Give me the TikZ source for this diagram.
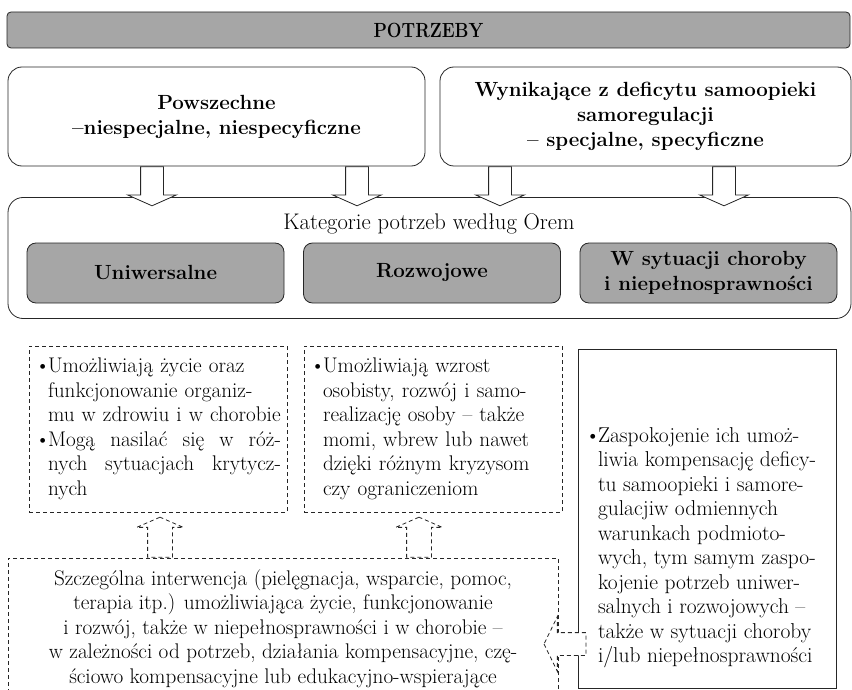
\documentclass[tikz,border=0pt]{standalone}
\usepackage{graphicx}
\usepackage{tikz}
\usetikzlibrary{positioning,%
	shapes.arrows}
\definecolor{boxgray}{HTML}{A6A6A6}
\newcommand{\bitem}{\makebox[13pt][l]{\textbullet}}
\newcommand{\icont}{\hspace*{13pt}}
\newcommand{\jline}[1]{\makebox[233pt][s]{\spaceskip=0pt\xspaceskip=0pt #1}}

\begin{document}
\begin{tikzpicture}[x=1pt, y=-1pt, line width=0.8pt, box/.style = {draw=black!85, rounded corners=14pt, inner sep=0pt, align=center, font=\fontsize{20.5}{25}\selectfont\bfseries}, catbox/.style = {draw=black!85, rounded corners=9pt, fill=boxgray, minimum width=257pt, minimum height=60pt, inner sep=0pt, align=center, font=\fontsize{20.5}{25}\selectfont\bfseries}, note/.style = {draw=black!85, dash pattern=on 4pt off 3pt, inner xsep=6pt, inner ysep=0pt, minimum width=258pt, minimum height=166pt, text width=246pt, align=left, font=\fontsize{21.2}{24.5}\selectfont}, darr/.style = {single arrow, draw=black!85, fill=white, anchor=tail, single arrow head indent=0pt}, downarr/.style = {darr, inner sep=11pt, shape border rotate=270, minimum height=39pt, minimum width=48pt, single arrow head extend=13pt, single arrow tip angle=132}, uparr/.style = {darr, inner sep=12pt, dash pattern=on 4pt off 3pt, shape border rotate=90, minimum height=40pt, minimum width=46pt, single arrow head extend=11pt, single arrow tip angle=133}, leftarr/.style = {darr, inner sep=11pt, dash pattern=on 4pt off 3pt, shape border rotate=180, minimum height=42pt, minimum width=54pt, single arrow head extend=16pt, single arrow tip angle=128}]
	\useasboundingbox (0,0) rectangle (852,690);
	\clip (0,0) rectangle (852,690);
	\node[draw=black!85, rounded corners=4pt, fill=boxgray, minimum width=843pt, minimum height=36pt, font=\fontsize{20.5}{24}\selectfont\bfseries] (potr) at (428.5,30) {\scalebox{0.85}[1]{POTRZEBY}};
	\node[box, minimum width=417pt, minimum height=99pt] (pow) at (216.5,116.5) {Powszechne\\–niespecjalne, niespecyficzne};
	\node[box, minimum width=411pt, minimum height=99pt] (def) at (645.5,116.5) {Wynikające z deficytu samoopieki\\samoregulacji\\– specjalne, specyficzne};
	\node[box, minimum width=843pt, minimum height=121pt, rounded corners=15pt] (orem) at (429.5,258) {};
	\node[font=\fontsize{22.6}{25}\selectfont, inner sep=0pt] (oremt) at (429,224) {Kategorie potrzeb według Orem};
	\node[catbox] (uni) at (155.5,273) {Uniwersalne};
	\node[catbox] (roz) at (432,273) {Rozwojowe};
	\node[catbox] (cho) at (708.5,273) {W sytuacji choroby\\i niepełnosprawności};
	\node[note] (n1) at (158,429) {\bitem Umożliwiają życie oraz\\\icont funkcjonowanie organiz-\\\icont\mbox{mu w zdrowiu i w chorobie}\\\bitem\jline{Mogą nasilać się w róż-}\\\icont\jline{nych sytuacjach krytycz-}\\\icont nych};
	\node[note] (n2) at (433,429) {\bitem Umożliwiają wzrost\\\icont osobisty, rozwój i samo-\\\icont realizację osoby – także\\\icont momi, wbrew lub nawet\\\icont dzięki różnym kryzysom\\\icont czy ograniczeniom};
	\node[draw=black!85, minimum width=258pt, minimum height=339pt] (kom) at (707,518.5) {};
	\node[anchor=west, inner sep=0pt, align=left, font=\fontsize{21.5}{24.5}\selectfont] (komt) at ([shift={(7,29)}]kom.west) {\bitem Zaspokojenie ich umoż-\\\icont liwia kompensację deficy-\\\icont tu samoopieki i samore-\\\icont gulacjiw odmiennych\\\icont warunkach podmioto-\\\icont wych, tym samym zaspo-\\\icont kojenie potrzeb uniwer-\\\icont salnych i rozwojowych –\\\icont także w sytuacji choroby\\\icont i/lub niepełnosprawności};
	\node[draw=black!85, dash pattern=on 4pt off 3pt, minimum width=550pt, minimum height=141pt, inner sep=0pt, align=center, font=\fontsize{21.2}{24.5}\selectfont] (intv) at (283,628.5) {Szczególna interwencja (pielęgnacja, wsparcie, pomoc,\\terapia itp.) umożliwiająca życie, funkcjonowanie\\i rozwój, także w niepełnosprawności i w chorobie –\\w zależności od potrzeb, działania kompensacyjne, czę-\\ściowo kompensacyjne lub edukacyjno-wspierające};
	\node[downarr] (a1) at ([xshift=-64.5pt]pow.south) {};
	\node[downarr] (a2) at ([xshift=140.5pt]pow.south) {};
	\node[downarr] (a3) at ([xshift=-145.5pt]def.south) {};
	\node[downarr] (a4) at ([xshift=78.5pt]def.south) {};
	\node[uparr] (u1) at ([xshift=-123pt]intv.north) {};
	\node[uparr] (u2) at ([xshift=136pt]intv.north) {};
	\node[leftarr] (l1) at ([shift={(28,15.5)}]intv.east) {};
\end{tikzpicture}
\end{document}
